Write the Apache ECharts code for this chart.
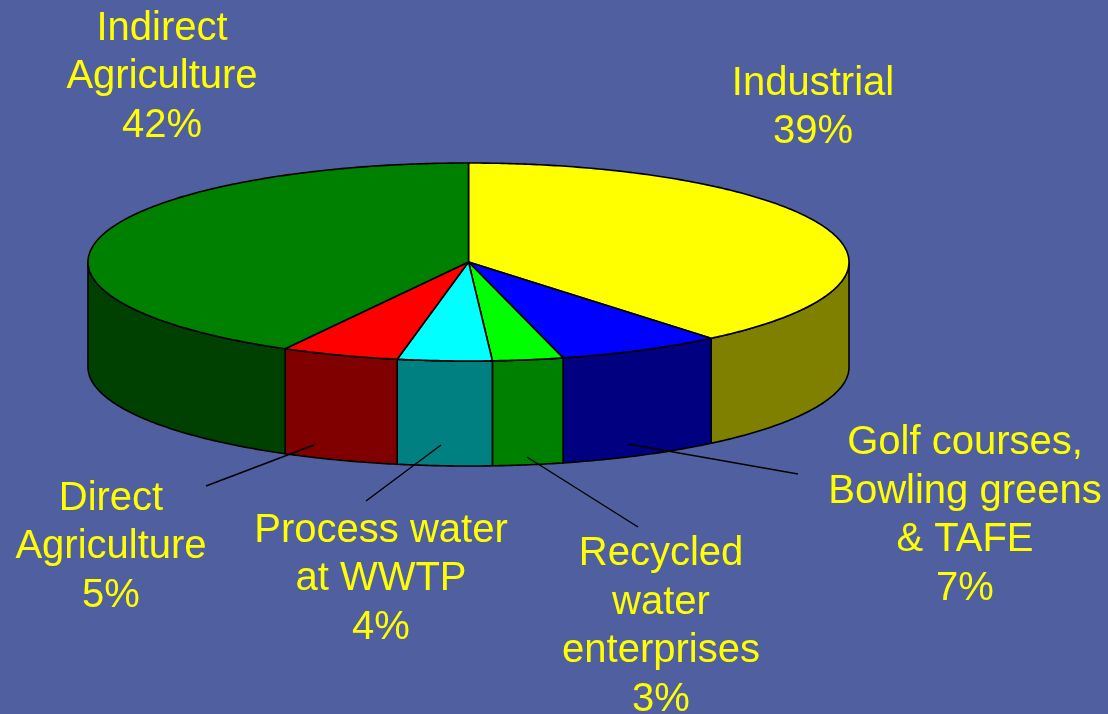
<!DOCTYPE html>
<html>
<head>
<meta charset="utf-8">
<style>html,body{margin:0;padding:0;background:#505f9f}#chart{width:1108px;height:714px}</style>
<script src="https://cdn.jsdelivr.net/npm/echarts@6/dist/echarts.min.js"></script>
</head>
<body>
<div id="chart"></div>
<script>
// Recycled water use by sector, clockwise from twelve o'clock
var categories = ['Industrial', 'Golf courses,\nBowling greens\n& TAFE', 'Recycled\nwater\nenterprises', 'Process water\nat WWTP', 'Direct\nAgriculture', 'Indirect\nAgriculture'];
var shares = [39, 7, 3, 4, 5, 42];
var topColors = ['#ffff00', '#0000ff', '#00ff00', '#00ffff', '#ff0000', '#008000'];
var wallColors = ['#808000', '#000080', '#008000', '#008080', '#800000', '#004000'];

// Label centres and leader lines [from, to], in page pixels
var labelCenters = [[813, 108], [965, 516], [661, 627], [381, 579], [111, 547], [162, 77]];
var leaders = [null, [[798, 474], [628, 444]], [[638, 527], [527, 457]], [[366, 501], [441, 445]], [[206, 486], [314, 445]], null];

// Disc geometry
var CX = 468.5, CY = 262, RX = 380.5, RY = 99, DEPTH = 105;
var total = shares.reduce(function (a, b) { return a + b; }, 0);

function rim(angle, dy) {
  return [CX + RX * Math.sin(angle), CY - RY * Math.cos(angle) + dy];
}
function arc(a0, a1, dy) {
  var n = Math.max(2, Math.ceil(Math.abs(a1 - a0) / 0.01));
  var pts = [];
  for (var i = 0; i <= n; i++) pts.push(rim(a0 + (a1 - a0) * i / n, dy));
  return pts;
}

function renderSlice(params, api) {
  var i = params.dataIndex;
  var before = 0;
  for (var k = 0; k < i; k++) before += shares[k];
  var a0 = before / total * 2 * Math.PI;
  var a1 = (before + api.value(0)) / total * 2 * Math.PI;
  var border = { stroke: '#000', lineWidth: 1.6, lineJoin: 'round' };
  var children = [];

  // Only the front half of the disc shows a wall
  var w0 = Math.max(a0, Math.PI / 2), w1 = Math.min(a1, 1.5 * Math.PI);
  if (w1 > w0) {
    children.push({
      type: 'polygon', z2: 1,
      shape: { points: arc(w0, w1, 0).concat(arc(w1, w0, DEPTH)) },
      style: Object.assign({ fill: wallColors[i] }, border)
    });
  }
  children.push({
    type: 'polygon', z2: 2,
    shape: { points: [[CX, CY]].concat(arc(a0, a1, 0)) },
    style: Object.assign({ fill: topColors[i] }, border)
  });
  if (leaders[i]) {
    children.push({
      type: 'line', z2: 3,
      shape: { x1: leaders[i][0][0], y1: leaders[i][0][1], x2: leaders[i][1][0], y2: leaders[i][1][1] },
      style: { stroke: '#000', lineWidth: 1.4 }
    });
  }
  children.push({
    type: 'text', z2: 4,
    style: {
      text: categories[i] + '\n' + api.value(0) + '%',
      x: labelCenters[i][0], y: labelCenters[i][1],
      align: 'center', verticalAlign: 'middle',
      fontFamily: '"Liberation Sans", Arial, sans-serif', fontSize: 40, lineHeight: 48.5,
      fill: '#ffff00'
    }
  });
  return { type: 'group', children: children };
}

var chart = echarts.init(document.getElementById('chart'), null, { renderer: 'canvas' });
chart.setOption({
  backgroundColor: '#505f9f',
  animation: false,
  series: [{
    type: 'custom',
    coordinateSystem: 'none',
    renderItem: renderSlice,
    data: shares.map(function (v) { return [v]; })
  }]
});
</script>
</body>
</html>
